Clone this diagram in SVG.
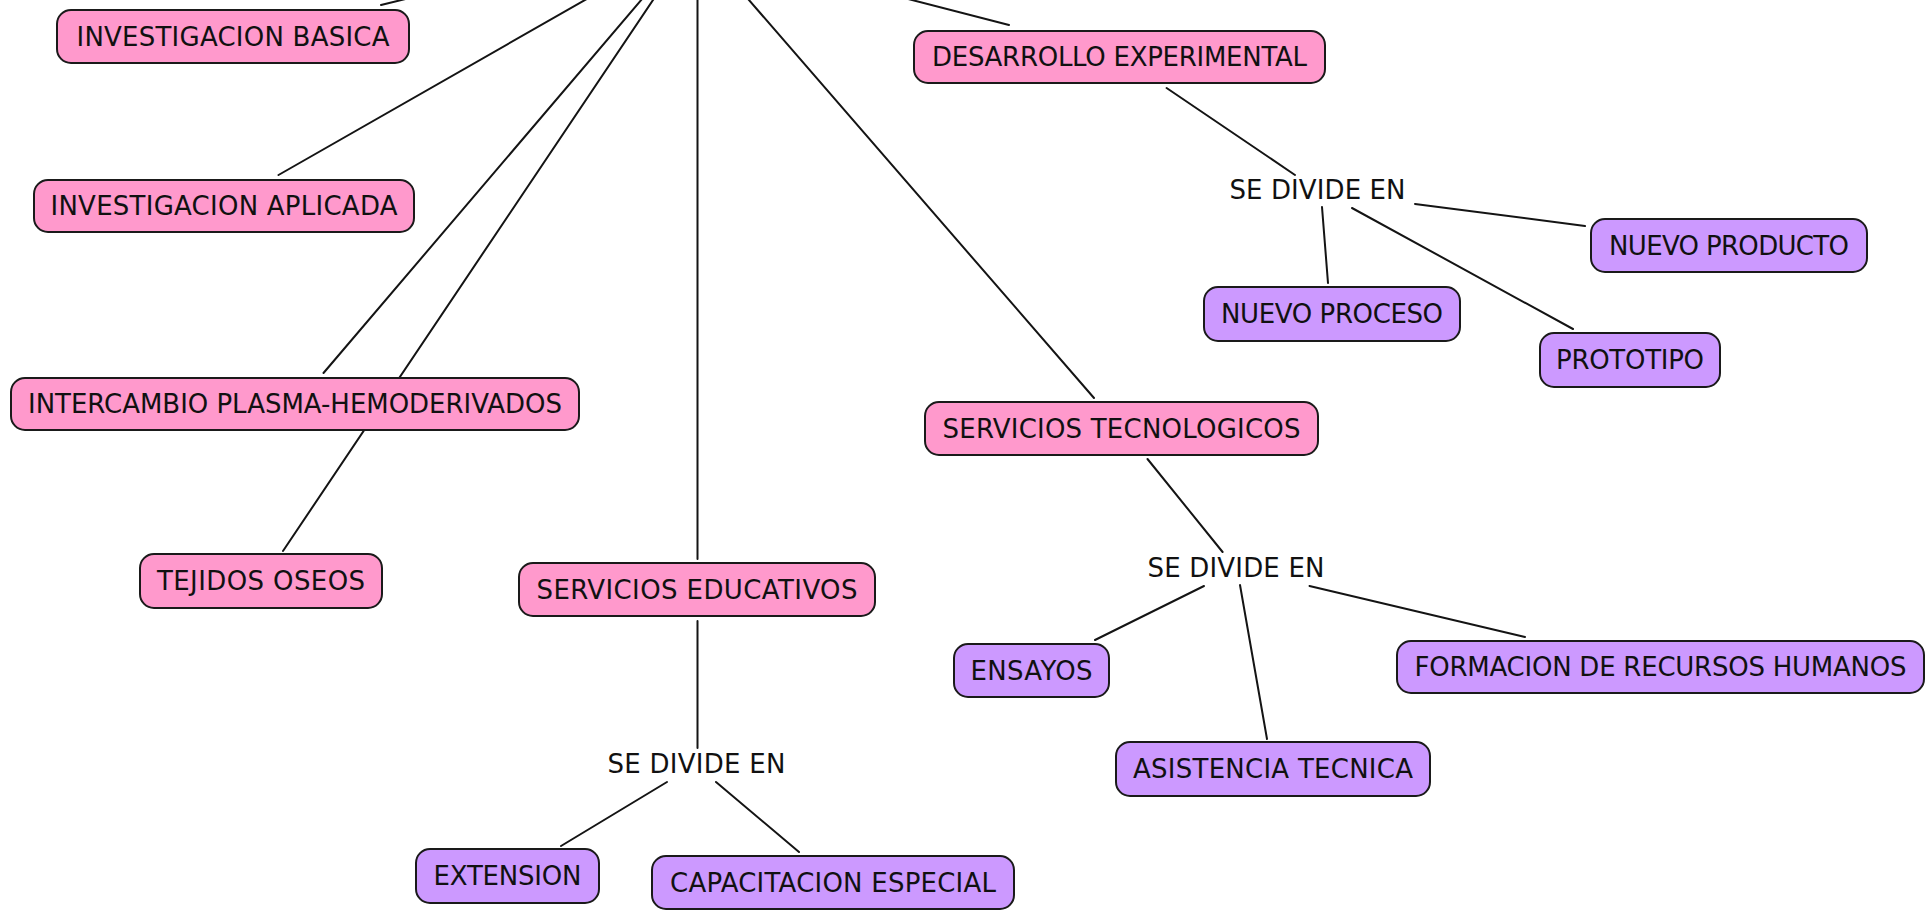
<svg xmlns="http://www.w3.org/2000/svg" width="1932" height="914" viewBox="0 0 1932 914">
<style>
.c{stroke:#141414;stroke-width:2;fill:none;stroke-linecap:round}
.p{fill:#FF99CC;stroke:#1a1a1a;stroke-width:2}
.v{fill:#CC99FF;stroke:#1a1a1a;stroke-width:2}
text{font-family:"DejaVu Sans","Verdana",sans-serif;font-size:26px;fill:#111;text-anchor:middle}
</style>
<rect width="1932" height="914" fill="#fff"/>
<g id="connectors">
<line class="c" x1="430" y1="-7" x2="381" y2="5"/>
<line class="c" x1="599" y1="-8" x2="278.5" y2="175"/>
<line class="c" x1="648" y1="-8" x2="323.5" y2="373"/>
<line class="c" x1="658.4" y1="-8" x2="283" y2="551"/>
<line class="c" x1="697.5" y1="-8" x2="697.5" y2="559"/>
<line class="c" x1="742" y1="-8" x2="1094" y2="398"/>
<line class="c" x1="881" y1="-8" x2="1009" y2="25"/>
<line class="c" x1="1166.6" y1="88" x2="1295" y2="175"/>
<line class="c" x1="1415" y1="204" x2="1585" y2="226"/>
<line class="c" x1="1322" y1="207" x2="1328" y2="283"/>
<line class="c" x1="1352" y1="208" x2="1573" y2="329"/>
<line class="c" x1="1147.5" y1="459" x2="1222.6" y2="552"/>
<line class="c" x1="1204" y1="586" x2="1095" y2="640"/>
<line class="c" x1="1240" y1="585" x2="1267" y2="739"/>
<line class="c" x1="1309.5" y1="586" x2="1525" y2="637"/>
<line class="c" x1="697.5" y1="621" x2="697.5" y2="748"/>
<line class="c" x1="667" y1="782" x2="561" y2="846"/>
<line class="c" x1="716" y1="782" x2="799" y2="852"/>
</g>
<g id="labels">
<text x="1317.5" y="199" textLength="176">SE DIVIDE EN</text>
<text x="1236" y="577" textLength="177">SE DIVIDE EN</text>
<text x="696.5" y="773" textLength="178">SE DIVIDE EN</text>
</g>
<g id="n-inv-basica"><rect class="p" x="57" y="10" width="352" height="53" rx="14"/><text x="233" y="45.5" textLength="313">INVESTIGACION BASICA</text></g>
<g id="n-inv-aplicada"><rect class="p" x="34" y="180" width="380" height="52" rx="14"/><text x="224" y="215" textLength="347">INVESTIGACION APLICADA</text></g>
<g id="n-intercambio"><rect class="p" x="11" y="378" width="568" height="52" rx="14"/><text x="295" y="413" textLength="534">INTERCAMBIO PLASMA-HEMODERIVADOS</text></g>
<g id="n-tejidos"><rect class="p" x="140" y="554" width="242" height="54" rx="14"/><text x="261" y="590" textLength="208">TEJIDOS OSEOS</text></g>
<g id="n-serv-edu"><rect class="p" x="519" y="563" width="356" height="53" rx="14"/><text x="697" y="598.5" textLength="321">SERVICIOS EDUCATIVOS</text></g>
<g id="n-extension"><rect class="v" x="416" y="849" width="183" height="54" rx="14"/><text x="507.5" y="885" textLength="148">EXTENSION</text></g>
<g id="n-capacitacion"><rect class="v" x="652" y="856" width="362" height="53" rx="14"/><text x="833" y="891.5" textLength="326">CAPACITACION ESPECIAL</text></g>
<g id="n-desarrollo"><rect class="p" x="914" y="31" width="411" height="52" rx="14"/><text x="1119.5" y="66" textLength="375">DESARROLLO EXPERIMENTAL</text></g>
<g id="n-nuevo-producto"><rect class="v" x="1591" y="219" width="276" height="53" rx="14"/><text x="1729" y="254.5" textLength="240">NUEVO PRODUCTO</text></g>
<g id="n-nuevo-proceso"><rect class="v" x="1204" y="287" width="256" height="54" rx="14"/><text x="1332" y="323" textLength="222">NUEVO PROCESO</text></g>
<g id="n-prototipo"><rect class="v" x="1540" y="333" width="180" height="54" rx="14"/><text x="1630" y="369" textLength="148">PROTOTIPO</text></g>
<g id="n-serv-tec"><rect class="p" x="925" y="402" width="393" height="53" rx="14"/><text x="1121.5" y="437.5" textLength="358">SERVICIOS TECNOLOGICOS</text></g>
<g id="n-ensayos"><rect class="v" x="954" y="644" width="155" height="53" rx="14"/><text x="1031.5" y="679.5" textLength="122">ENSAYOS</text></g>
<g id="n-formacion"><rect class="v" x="1397" y="641" width="527" height="52" rx="14"/><text x="1660.5" y="676" textLength="492">FORMACION DE RECURSOS HUMANOS</text></g>
<g id="n-asistencia"><rect class="v" x="1116" y="742" width="314" height="54" rx="14"/><text x="1273" y="778" textLength="280">ASISTENCIA TECNICA</text></g>
</svg>
